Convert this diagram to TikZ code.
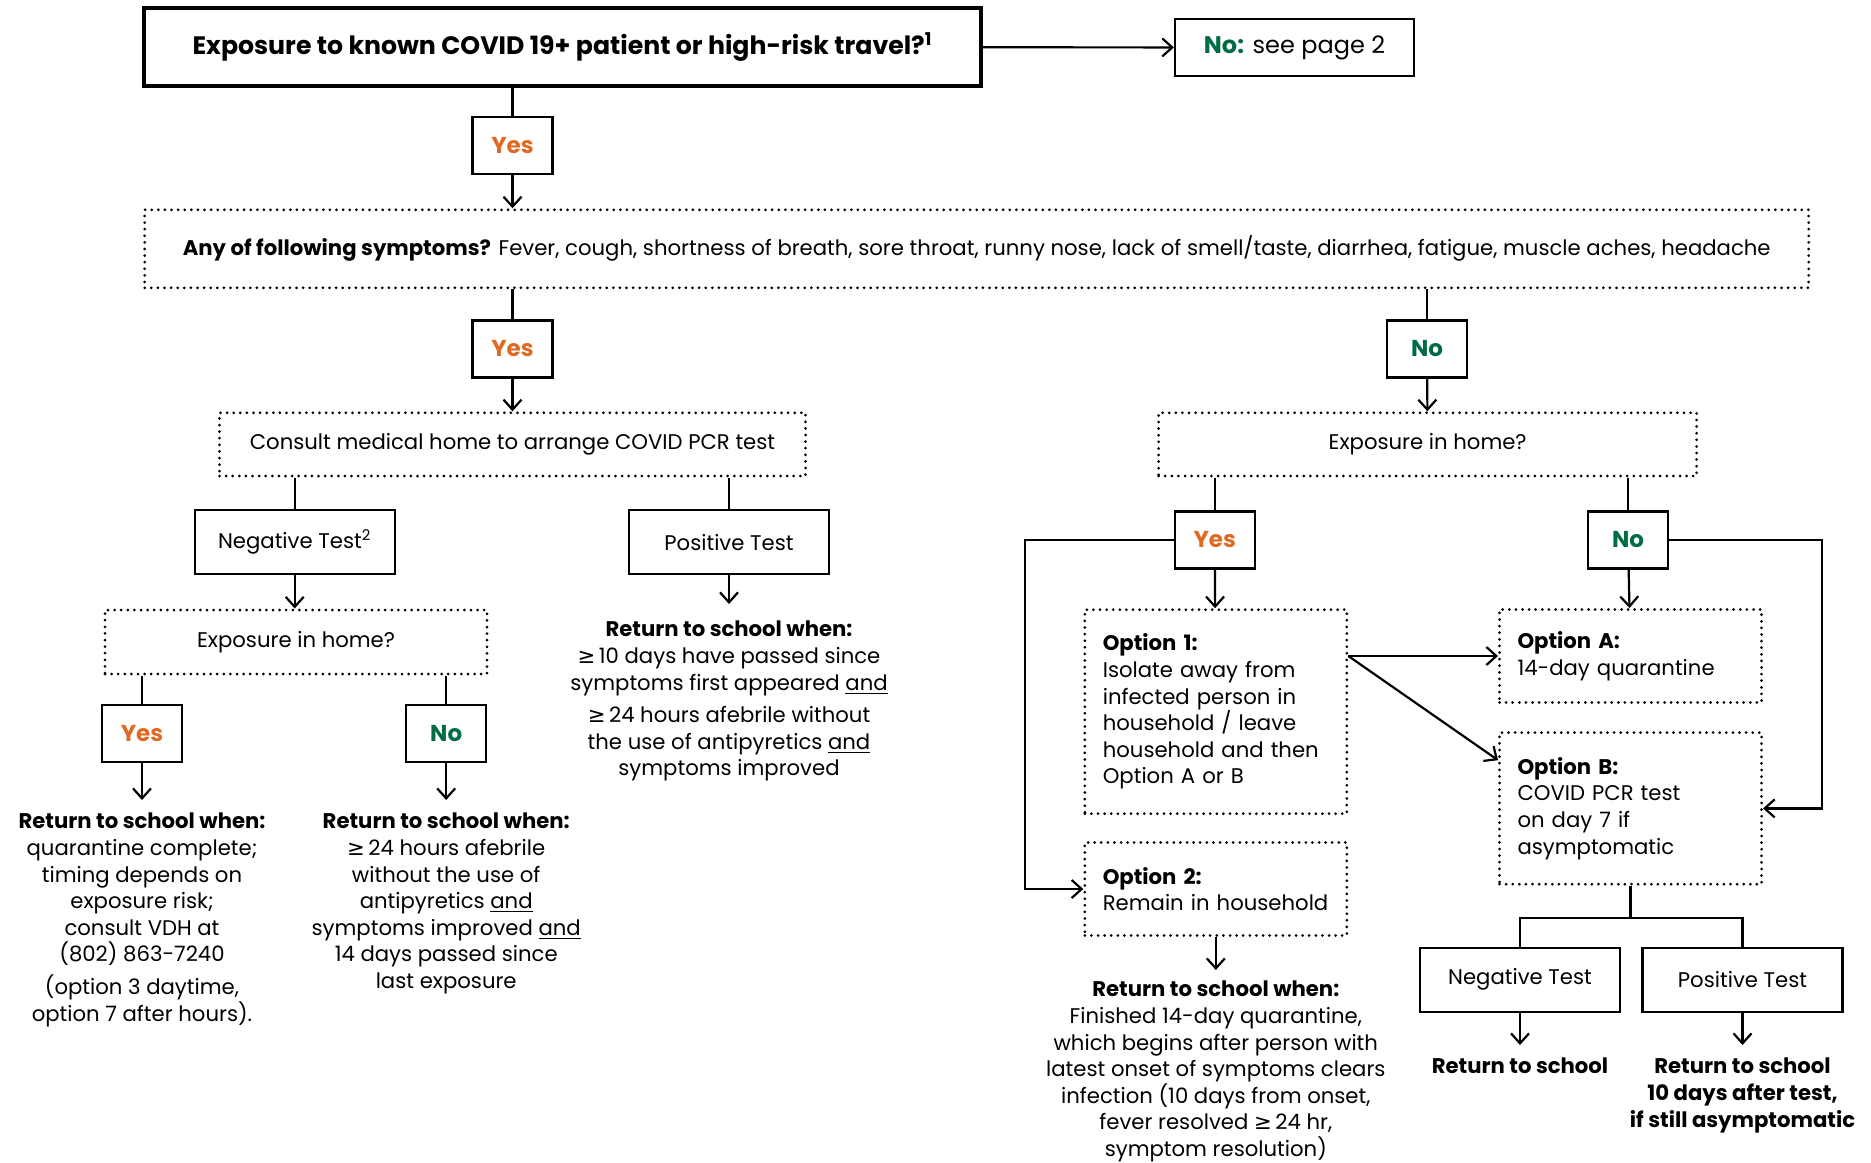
\documentclass[tikz,border=0pt]{standalone}
\usepackage{fontspec}
\setmainfont{Poppins}
\newfontfamily\symf{DejaVu Sans}
\usetikzlibrary{arrows.meta,positioning}
\definecolor{yesc}{RGB}{224,106,36}
\definecolor{noc}{RGB}{0,108,68}
\newcommand{\atleast}{{\symf ≥}\,}

\begin{document}
\begin{tikzpicture}[x=0.5pt,y=-0.5pt,
  font=\fontsize{10.6}{13.3}\selectfont,
  box/.style={draw,line width=1.1pt,inner sep=0pt},
  dotbox/.style={draw,line width=1.5pt,line cap=round,dash pattern=on 0pt off 3.3pt,inner sep=0pt},
  ans/.style={box,minimum width=40pt,minimum height=28.5pt,font=\fontsize{11.5}{13}\selectfont\bfseries},
  test/.style={box,minimum width=100pt,minimum height=32pt},
  opt/.style={dotbox,minimum width=131pt,text width=113pt,align=left},
  ret/.style={align=center,inner sep=0pt,anchor=north},
  arr/.style={-{Straight Barb[length=5pt,width=9pt]}},
  line width=1.1pt]
\useasboundingbox (0,0) rectangle (1871,1162);

\node[box,line width=1.8pt,minimum width=418.5pt,minimum height=39pt] (q1) at (562.5,47)
  {\fontsize{12.6}{14}\selectfont\bfseries Exposure to known COVID 19+ patient or high-risk travel?\textsuperscript{1}};
\node[box,minimum width=119.5pt,minimum height=28.5pt] (nop) at (1294.5,47.5)
  {\fontsize{12}{14}\selectfont{\bfseries\color{noc}No:} see page 2};
\node[ans,text=yesc] (yes1) at (512.5,145.5) {Yes};
\node[dotbox,minimum width=832pt,minimum height=39pt] (sym) at (976.7,248.8)
  {\textbf{Any of following symptoms?} Fever, cough, shortness of breath, sore throat, runny nose, lack of smell/taste, diarrhea, fatigue, muscle aches, headache};
\node[ans,text=yesc] (yes2) at (512.5,349) {Yes};
\node[ans,text=noc] (no2) at (1427,349) {No};

\node[dotbox,minimum width=293pt,minimum height=31.6pt] (cons) at (512.5,444.4) {Consult medical home to arrange COVID PCR test};
\node[test] (negl) at (294.7,542.3) {Negative Test\textsuperscript{2}};
\node[test] (posl) at (729,542.3) {Positive Test};
\node[dotbox,minimum width=191pt,minimum height=32pt] (expl) at (296,642) {Exposure in home?};
\node[ans,text=yesc] (yes3) at (142,733.8) {Yes};
\node[ans,text=noc] (no3) at (446.2,733.8) {No};
\node[ret] (ret1) at (142,812) {\textbf{Return to school when:}\\ quarantine complete;\\ timing depends on\\ exposure risk;\\ consult VDH at\\ (802) 863-7240\\[3pt] (option 3 daytime,\\ option 7 after hours).};
\node[ret] (ret3) at (446.2,812) {\textbf{Return to school when:}\\ \atleast24 hours afebrile\\ without the use of\\ antipyretics \underline{and}\\ symptoms improved \underline{and}\\ 14 days passed since\\ last exposure};
\node[ret] (ret2) at (729,620) {\textbf{Return to school when:}\\ \atleast10 days have passed since\\ symptoms first appeared \underline{and}\\[3pt] \atleast24 hours afebrile without\\ the use of antipyretics \underline{and}\\ symptoms improved};

\node[dotbox,minimum width=269pt,minimum height=31.6pt] (expr) at (1427.6,444.4) {Exposure in home?};
\node[ans,text=yesc] (yes4) at (1214.7,540) {Yes};
\node[ans,text=noc] (no4) at (1628,540) {No};
\node[opt,minimum height=102pt] (opt1) at (1215.8,711.7) {\textbf{Option 1:}\\ Isolate away from\\ infected person in\\ household / leave\\ household and then\\ Option A or B};
\node[opt,minimum height=46.5pt] (optA) at (1630.5,656) {\textbf{Option A:}\\ 14-day quarantine};
\node[opt,minimum height=75.8pt] (optB) at (1630.5,808.4) {\textbf{Option B:}\\ COVID PCR test\\ on day 7 if\\ asymptomatic};
\node[opt,minimum height=46.5pt] (opt2) at (1215.8,889) {\textbf{Option 2:}\\ \mbox{Remain in household}};
\node[ret] (ret4) at (1215.8,980) {\textbf{Return to school when:}\\ Finished 14-day quarantine,\\ which begins after person with\\ latest onset of symptoms clears\\ infection (10 days from onset,\\ fever resolved \atleast24 hr,\\ symptom resolution)};
\node[test] (negr) at (1520,979.6) {Negative Test};
\node[test] (posr) at (1742.5,979.6) {Positive Test};
\node[ret,font=\fontsize{10.6}{13.3}\selectfont\bfseries] (ret5) at (1520,1057) {Return to school};
\node[ret,font=\fontsize{10.6}{13.3}\selectfont\bfseries] (ret6) at (1742.5,1057) {Return to school\\ 10 days after test,\\ if still asymptomatic};

\draw[arr] (q1) -- (nop);
\draw (yes1 |- q1.south) -- (yes1);
\draw[arr] (yes1) -- (yes1 |- sym.north);
\draw (yes2 |- sym.south) -- (yes2);
\draw (no2 |- sym.south) -- (no2);
\draw[arr] (yes2) -- (cons);
\draw[arr] (no2) -- (expr);
\draw (negl |- cons.south) -- (negl);
\draw (posl |- cons.south) -- (posl);
\draw[arr] (negl) -- (negl |- expl.north);
\draw[arr,shorten >=8pt] (posl) -- (ret2);
\draw (yes3 |- expl.south) -- (yes3);
\draw (no3 |- expl.south) -- (no3);
\draw[arr,shorten >=6pt] (yes3) -- (ret1);
\draw[arr,shorten >=6pt] (no3) -- (ret3);
\draw (yes4 |- expr.south) -- (yes4);
\draw (no4 |- expr.south) -- (no4);
\draw[arr] (yes4) -- (opt1);
\draw[arr] (no4) -- (optA);
\draw[arr] (yes4.west) -- ++(-149,0) |- (opt2.west);
\draw[arr] (no4.east) -- ++(153,0) |- (optB.east);
\draw[arr] (opt1.east |- optA) -- (optA.west);
\draw[arr] (opt1.east |- optA) -- (optB.160);
\draw[arr,shorten >=5pt] (opt2) -- (ret4);
\draw (optB.south) -- ++(0,32) -| (negr.north);
\draw (optB.south) ++(0,32) -| (posr.north);
\draw[arr,shorten >=6pt] (negr) -- (ret5);
\draw[arr,shorten >=6pt] (posr) -- (ret6);
\end{tikzpicture}
\end{document}
